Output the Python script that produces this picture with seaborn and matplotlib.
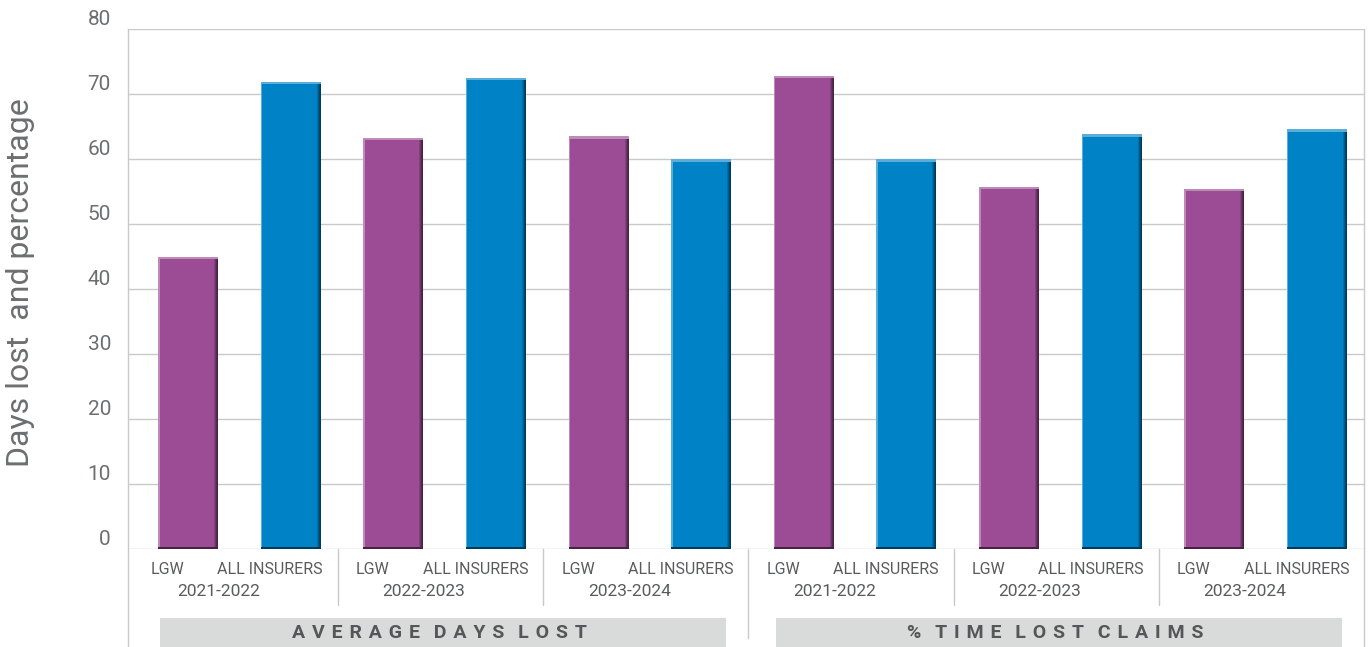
import matplotlib
matplotlib.use("Agg")
import matplotlib.pyplot as plt
import matplotlib.colors as mcolors
from matplotlib.patches import Rectangle
import numpy as np
import pandas as pd
import seaborn as sns

# ---- data ----
measures = ["AVERAGE DAYS LOST", "% TIME LOST CLAIMS"]
years = ["2021-2022", "2022-2023", "2023-2024"]
series = ["LGW", "ALL INSURERS"]
lgw_values = [45.0, 63.3, 63.5, 72.8, 55.7, 55.4]
all_insurers_values = [71.9, 72.5, 60.0, 60.0, 63.8, 64.6]
y_ticks = [0, 10, 20, 30, 40, 50, 60, 70, 80]
y_label = "Days lost  and percentage"

PURPLE = "#9b4c94"
BLUE = "#0083c6"
GRID = "#c9c9c9"
TEXT = "#5a5b5d"
AXIS_TEXT = "#6d6e70"
BOX = "#d9dada"
BOX_TEXT = "#555658"

rows = []
groups = [(m, y) for m in measures for y in years]
for gi, (m, yr) in enumerate(groups):
    rows.append({"measure": m, "year": yr, "series": series[0], "value": lgw_values[gi]})
    rows.append({"measure": m, "year": yr, "series": series[1], "value": all_insurers_values[gi]})
df = pd.DataFrame(rows)
df["slot"] = df["measure"] + " | " + df["year"] + " | " + df["series"]

sns.set_theme(style="white")
plt.rcParams["font.family"] = ["Roboto", "DejaVu Sans"]
NARROW = ["Liberation Sans Narrow", "Roboto", "DejaVu Sans"]

W_PX, H_PX = 1370, 647
PT = 72 / 100  # points per pixel at dpi 100

fig = plt.figure(figsize=(W_PX / 100, H_PX / 100), dpi=100)
ax_left, ax_right, ax_top, ax_bottom = 128, 1364, 29, 549
ax = fig.add_axes([ax_left / W_PX, (H_PX - ax_bottom) / H_PX,
                   (ax_right - ax_left) / W_PX, (ax_bottom - ax_top) / H_PX])

sns.barplot(data=df, x="slot", y="value", hue="series", order=list(df["slot"]),
            hue_order=series, palette={series[0]: PURPLE, series[1]: BLUE},
            dodge=False, width=0.585, saturation=1, legend=False, ax=ax,
            edgecolor="none", linewidth=0, zorder=3)

n = len(df)
ax.set_xlim(-0.585, n - 1 + 0.458)
ax.set_ylim(0, 80)
ax.set_yticks(y_ticks)
ax.set_xticks([])
ax.set_xlabel("")
ax.set_ylabel("")

ax.yaxis.grid(True, color=GRID, linewidth=1.4 * PT, zorder=0)
ax.set_axisbelow(True)
for side in ["top", "right", "bottom"]:
    ax.spines[side].set_visible(False)
ax.spines["left"].set_color(GRID)
ax.spines["left"].set_linewidth(1.4 * PT)
ax.tick_params(axis="y", length=8 * PT, width=1.4 * PT, color=GRID, pad=9 * PT,
               labelsize=15, labelcolor=AXIS_TEXT)
for lab in ax.get_yticklabels():
    lab.set_verticalalignment("bottom")

# pixel -> data conversions
px_x = (ax.get_xlim()[1] - ax.get_xlim()[0]) / (ax_right - ax_left)
px_y = 80 / (ax_bottom - ax_top)

# bevel shading on each bar, bars taken left to right
bars = sorted([p for p in ax.patches if isinstance(p, Rectangle)][:n],
              key=lambda p: p.get_x())
centers = []
for p in bars:
    x0, w, h = p.get_x(), p.get_width(), p.get_height()
    centers.append(x0 + w / 2)
    base = np.array(mcolors.to_rgb(p.get_facecolor()))
    dark = base * 0.45
    light = base + (1 - base) * 0.35
    # darker right edge, graded
    for k, f in enumerate([0.85, 0.7, 0.55, 0.45]):
        ax.add_patch(Rectangle((x0 + w - (4 - k) * px_x, 0), px_x, h,
                               facecolor=base * f, edgecolor="none", zorder=4))
    # lighter left edge
    ax.add_patch(Rectangle((x0, 0), 1.5 * px_x, h, facecolor=light,
                           edgecolor="none", zorder=4))
    # top highlight
    ax.add_patch(Rectangle((x0, h - 2.5 * px_y), w, 2.5 * px_y, facecolor=light,
                           edgecolor="none", zorder=5))
    # bottom dark line
    ax.add_patch(Rectangle((x0, 0), w, 2 * px_y, facecolor=dark,
                           edgecolor="none", zorder=5))

# category / year labels beneath the axis
shift = -0.2
y_row1 = -(569 - ax_bottom) * px_y
y_row2 = -(592 - ax_bottom) * px_y
for i, row in df.iterrows():
    ax.text(centers[i] + shift, y_row1, row["series"], ha="center", va="center",
            fontsize=11.5, color=TEXT, family=NARROW, clip_on=False)
for gi, (m, yr) in enumerate(groups):
    cx = (centers[2 * gi] + centers[2 * gi + 1]) / 2 + shift
    ax.text(cx, y_row2, yr, ha="center", va="center", fontsize=12.5,
            color=TEXT, clip_on=False)

# separators between year groups
sep_low = -(605 - ax_bottom) * px_y
sep_mid = -(638 - ax_bottom) * px_y
for gi in range(1, len(groups)):
    sx = (centers[2 * gi - 1] + centers[2 * gi]) / 2 - 0.04
    low = sep_mid if gi == len(years) else sep_low
    ax.plot([sx, sx], [0, low], color=GRID, lw=1.4 * PT, clip_on=False, zorder=2)

# outer frame lines running down to the figure edge
fig_bottom = -(H_PX - ax_bottom) * px_y
xl, xr = ax.get_xlim()
ax.plot([xl, xl], [0, fig_bottom], color=GRID, lw=1.4 * PT, clip_on=False)
ax.plot([xr, xr], [80, fig_bottom], color=GRID, lw=1.4 * PT, clip_on=False)

# measure header boxes with letter-spaced titles
box_top = -(618 - ax_bottom) * px_y
per_measure = len(years) * len(series)
gap = " \u200a"
for mi, m in enumerate(measures):
    first = centers[mi * per_measure]
    last = centers[(mi + 1) * per_measure - 1]
    bx0, bx1 = first - 0.27, last + 0.245
    ax.add_patch(Rectangle((bx0, fig_bottom), bx1 - bx0, box_top - fig_bottom,
                           facecolor=BOX, edgecolor="none", clip_on=False, zorder=1))
    spaced = (gap * 2).join(gap.join(word) for word in m.split(" "))
    ax.text((bx0 + bx1) / 2 - 0.04, (box_top + fig_bottom) / 2, spaced, ha="center",
            va="center", fontsize=14, fontweight="bold", color=BOX_TEXT,
            clip_on=False, zorder=6)

fig.text(21 / W_PX, 1 - 283 / H_PX, y_label, rotation=90, ha="center", va="center",
         fontsize=23, color=AXIS_TEXT)

fig.savefig("out.png", dpi=100, facecolor="white")
